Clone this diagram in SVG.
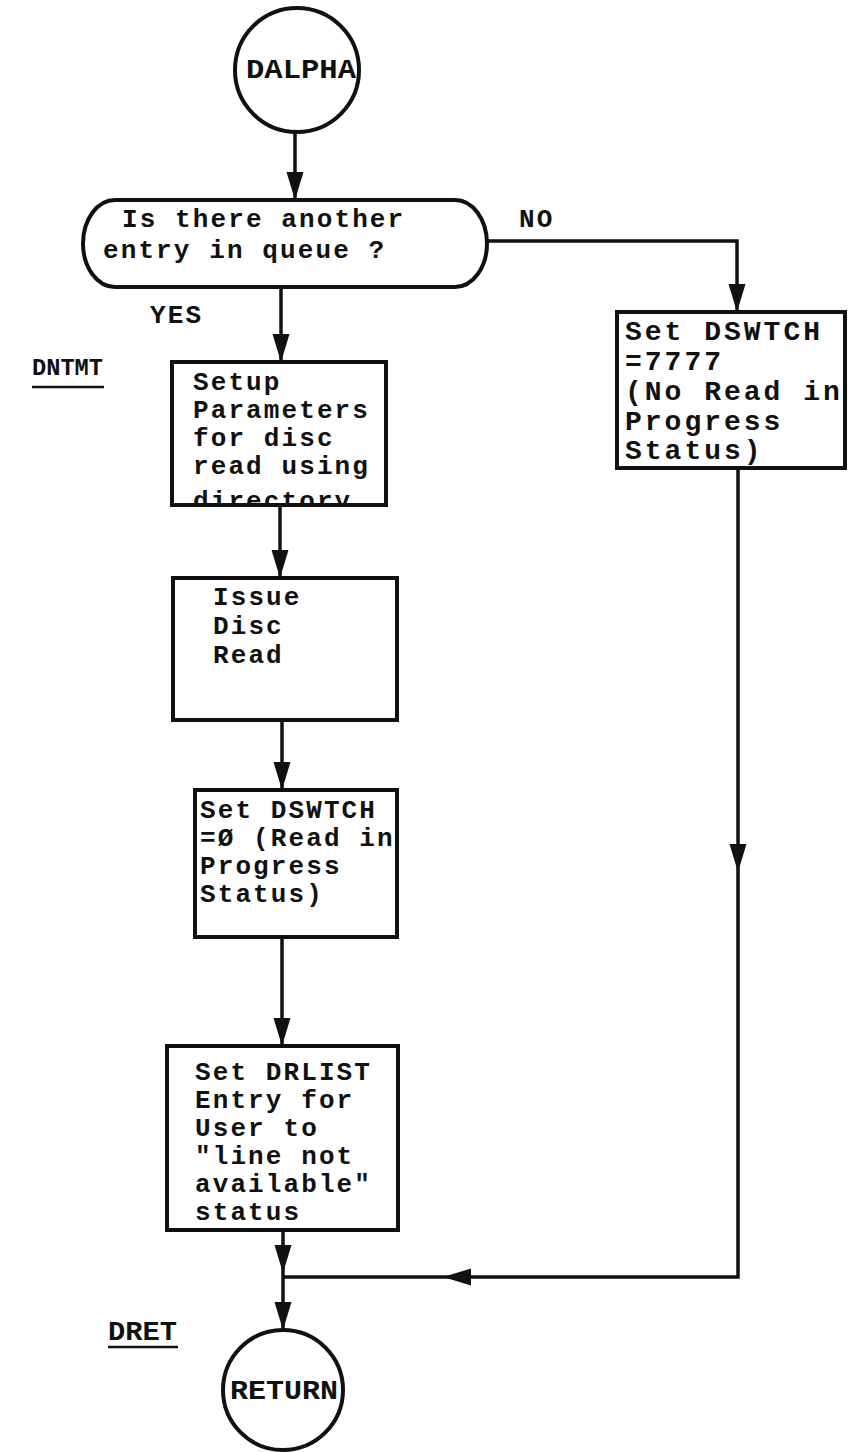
<svg xmlns="http://www.w3.org/2000/svg" width="850" height="1452" viewBox="0 0 850 1452">
<style>
.t{font-family:"Liberation Mono","DejaVu Sans Mono",monospace;font-weight:bold;font-size:26px;letter-spacing:2.1px;fill:#111}
.big{font-size:28px;letter-spacing:3px}
.lbl{font-family:"Liberation Mono","DejaVu Sans Mono",monospace;font-weight:bold;fill:#111}
.shape{fill:#fff;stroke:#111;stroke-width:4}
.c{fill:none;stroke:#111;stroke-width:3.5}
.ul{stroke:#111;stroke-width:2.5}
</style>
<defs>
<marker id="arr" viewBox="0 0 28 18" refX="28" refY="9" markerWidth="28" markerHeight="18" markerUnits="userSpaceOnUse" orient="auto">
<path d="M0,0.5 L28,9 L0,17.5 Z" fill="#111"/>
</marker>
<clipPath id="setupClip"><rect x="172" y="362" width="214" height="143"/></clipPath>
</defs>
<rect width="850" height="1452" fill="#fff"/>

<g id="connectors">
<path class="c" d="M295,132 V200" marker-end="url(#arr)"/>
<path class="c" d="M487,241 H737 V312" marker-end="url(#arr)"/>
<path class="c" d="M281,287 V362" marker-end="url(#arr)"/>
<path class="c" d="M280,505 V578" marker-end="url(#arr)"/>
<path class="c" d="M282,720 V790" marker-end="url(#arr)"/>
<path class="c" d="M282,937 V1046" marker-end="url(#arr)"/>
<path class="c" d="M283,1230 V1273" marker-end="url(#arr)"/>
<path class="c" d="M283,1273 V1277"/>
<path class="c" d="M283,1277 V1330" marker-end="url(#arr)"/>
<path class="c" d="M738,468 V872" marker-end="url(#arr)"/>
<path class="c" d="M738,872 V1277 H443" marker-end="url(#arr)"/>
<path class="c" d="M443,1277 H283"/>
</g>

<g id="dalpha">
<circle class="shape" cx="297" cy="70" r="62"/>
<text class="lbl" x="301" y="78" font-size="28" text-anchor="middle" textLength="110" lengthAdjust="spacingAndGlyphs">DALPHA</text>
</g>

<g id="decision">
<path class="shape" d="M115,200 H455 A32 43.5 0 0 1 455,287 H115 A32 43.5 0 0 1 115,200 Z"/>
<text class="t" x="122" y="227">Is there another</text>
<text class="t" x="103" y="258">entry in queue ?</text>
</g>

<g id="label-no"><text class="t" x="519" y="227">NO</text></g>
<g id="label-yes"><text class="t" x="150" y="323">YES</text></g>

<g id="label-dntmt">
<text class="lbl" x="32" y="375" font-size="24" textLength="71" lengthAdjust="spacingAndGlyphs">DNTMT</text>
<line class="ul" x1="32" y1="387" x2="104" y2="387"/>
</g>

<g id="setup">
<rect class="shape" x="172" y="362" width="214" height="143"/>
<g clip-path="url(#setupClip)">
<text class="t" x="193" y="390">Setup</text>
<text class="t" x="193" y="418">Parameters</text>
<text class="t" x="193" y="446">for disc</text>
<text class="t" x="193" y="474">read using</text>
<text class="t" x="193" y="509">directory</text>
</g>
<rect x="172" y="362" width="214" height="143" fill="none" stroke="#111" stroke-width="4"/>
</g>

<g id="issue">
<rect class="shape" x="173" y="578" width="224" height="142"/>
<text class="t" x="213" y="605">Issue</text>
<text class="t" x="213" y="634">Disc</text>
<text class="t" x="213" y="663">Read</text>
</g>

<g id="set-dswtch-0">
<rect class="shape" x="195" y="790" width="202" height="147"/>
<text class="t" x="200" y="818">Set DSWTCH</text>
<text class="t" x="200" y="846">=Ø (Read in</text>
<text class="t" x="200" y="874">Progress</text>
<text class="t" x="200" y="902">Status)</text>
</g>

<g id="set-drlist">
<rect class="shape" x="167" y="1046" width="231" height="184"/>
<text class="t" x="195" y="1080">Set DRLIST</text>
<text class="t" x="195" y="1108">Entry for</text>
<text class="t" x="195" y="1136">User to</text>
<text class="t" x="195" y="1164">"line not</text>
<text class="t" x="195" y="1192">available"</text>
<text class="t" x="195" y="1220">status</text>
</g>

<g id="set-dswtch-7777">
<rect class="shape" x="617" y="312" width="228" height="156"/>
<text class="t big" x="625" y="340">Set DSWTCH</text>
<text class="t big" x="625" y="370">=7777</text>
<text class="t big" x="625" y="400">(No Read in</text>
<text class="t big" x="625" y="430">Progress</text>
<text class="t big" x="625" y="459">Status)</text>
</g>

<g id="label-dret">
<text class="lbl" x="108" y="1340" font-size="28" textLength="69" lengthAdjust="spacingAndGlyphs">DRET</text>
<line class="ul" x1="108" y1="1347" x2="178" y2="1347"/>
</g>

<g id="return">
<circle class="shape" cx="283" cy="1390" r="60"/>
<text class="lbl" x="284" y="1399" font-size="28" text-anchor="middle" textLength="108" lengthAdjust="spacingAndGlyphs">RETURN</text>
</g>
</svg>
